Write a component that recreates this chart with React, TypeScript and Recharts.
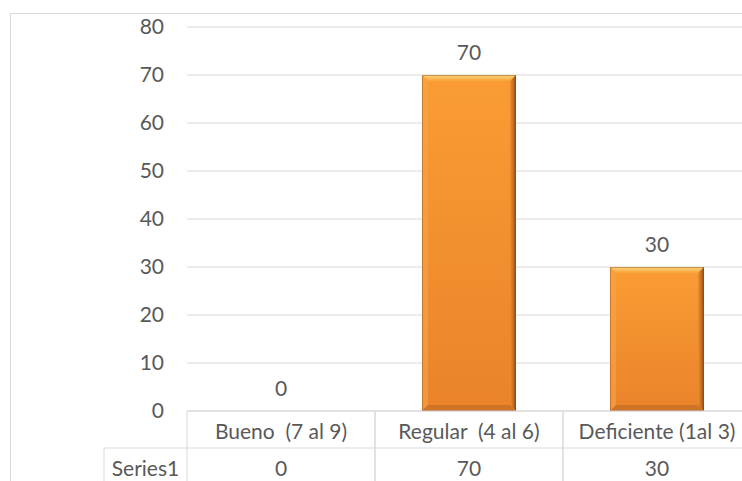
import { BarChart, Bar, XAxis, YAxis, CartesianGrid, LabelList } from "recharts";

const categorias = ["Bueno  (7 al 9)", "Regular  (4 al 6)", "Deficiente (1al 3)"];
const valores = [0, 70, 30];
const serieNombre = "Series1";
const yTicks = [0, 10, 20, 30, 40, 50, 60, 70, 80];

const data = categorias.map((c, i) => ({ cat: c, valor: valores[i] }));

const FONT = "Lato, 'Liberation Sans', sans-serif";
const TXT = "#595959";
const LINE = "#d9d9d9";
const FS = 21;

const BevelBar = (props: any) => {
  const { x, y, width, height } = props;
  if (!height || height <= 0) return null;
  const b = Math.min(6, height / 2);
  const r = x + width;
  const btm = y + height;
  return (
    <g>
      <rect x={x} y={y} width={width} height={height} fill="url(#barFill)" />
      <polygon points={`${x},${y} ${r},${y} ${r - b},${y + b} ${x + b},${y + b}`} fill="url(#bevelTop)" />
      <polygon points={`${x},${y} ${x + b},${y + b} ${x + b},${btm - b} ${x},${btm}`} fill="#f7a548" opacity={0.6} />
      <polygon points={`${r},${y} ${r - b},${y + b} ${r - b},${btm - b} ${r},${btm}`} fill="url(#bevelRight)" />
      <polygon points={`${x},${btm} ${x + b},${btm - b} ${r - b},${btm - b} ${r},${btm}`} fill="#cf7427" />
      <rect x={x + 0.5} y={y + 0.5} width={width - 1} height={height - 1} fill="none" stroke="#8a4c18" strokeOpacity={0.45} />
    </g>
  );
};

const TableTick = (props: any) => {
  const { x, y, payload, width } = props;
  const band = width / categorias.length;
  const rowH = 37;
  const left = x - band / 2;
  const rightX = x + band / 2;
  const idx = payload.index;
  const txt = { fill: TXT, fontSize: FS, fontFamily: FONT, style: { whiteSpace: "pre" as const } };
  return (
    <g>
      <line x1={left} y1={y} x2={left} y2={y + rowH * 2} stroke={LINE} />
      <line x1={rightX} y1={y} x2={rightX} y2={y + rowH * 2} stroke={LINE} />
      <line x1={left} y1={y + rowH} x2={rightX} y2={y + rowH} stroke={LINE} />
      <text x={x} y={y + rowH / 2 + 1} textAnchor="middle" dominantBaseline="central" {...txt}>
        {payload.value}
      </text>
      <text x={x} y={y + rowH * 1.5 + 1} textAnchor="middle" dominantBaseline="central" {...txt}>
        {valores[idx]}
      </text>
      {idx === 0 && (
        <g>
          <line x1={left - 83} y1={y + rowH} x2={left} y2={y + rowH} stroke={LINE} />
          <line x1={left - 83} y1={y + rowH} x2={left - 83} y2={y + rowH * 2} stroke={LINE} />
          <text x={left - 41.5} y={y + rowH * 1.5 + 1} textAnchor="middle" dominantBaseline="central" {...txt}>
            {serieNombre}
          </text>
        </g>
      )}
    </g>
  );
};

export default function App() {
  return (
    <div style={{ position: "fixed", left: 0, top: 0, width: 742, height: 481, overflow: "hidden", background: "#fff" }}>
      <div style={{ position: "absolute", left: 10, top: 13, width: 800, height: 600, borderLeft: `1px solid ${LINE}`, borderTop: `1px solid ${LINE}` }} />
      <div style={{ position: "absolute", left: 0, top: 0 }}>
        <BarChart width={770} height={520} data={data} margin={{ top: 27, right: 19, bottom: 35, left: 0 }} barCategoryGap="25%">
          <defs>
            <linearGradient id="barFill" x1="0" y1="0" x2="0" y2="1">
              <stop offset="0%" stopColor="#fa9c33" />
              <stop offset="100%" stopColor="#ea832b" />
            </linearGradient>
            <linearGradient id="bevelTop" x1="0" y1="0" x2="0" y2="1">
              <stop offset="0%" stopColor="#fdd57d" />
              <stop offset="100%" stopColor="#f9a43a" />
            </linearGradient>
            <linearGradient id="bevelRight" x1="1" y1="0" x2="0" y2="0">
              <stop offset="0%" stopColor="#8a4a16" />
              <stop offset="45%" stopColor="#c46d25" />
              <stop offset="100%" stopColor="#ef8e30" />
            </linearGradient>
          </defs>
          <CartesianGrid vertical={false} stroke={LINE} />
          <XAxis
            dataKey="cat"
            height={74}
            axisLine={{ stroke: LINE }}
            tickLine={false}
            tickSize={0}
            tickMargin={0}
            interval={0}
            tick={<TableTick />}
          />
          <YAxis
            width={187}
            domain={[0, 80]}
            ticks={yTicks}
            axisLine={false}
            tickLine={false}
            tickSize={0}
            tickMargin={23}
            tick={{ fill: TXT, fontSize: FS, fontFamily: FONT }}
          />
          <Bar dataKey="valor" shape={<BevelBar />} isAnimationActive={false}>
            <LabelList dataKey="valor" position="top" offset={15} fill={TXT} fontSize={FS} fontFamily={FONT} />
          </Bar>
        </BarChart>
      </div>
    </div>
  );
}
